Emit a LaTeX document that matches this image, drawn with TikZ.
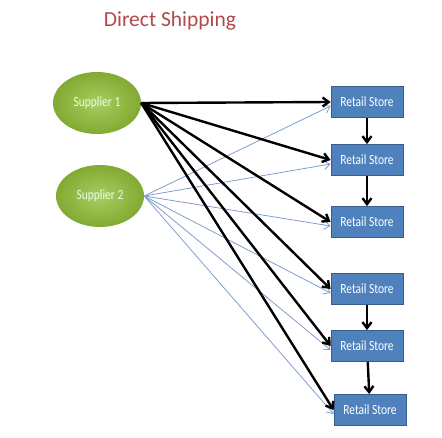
\documentclass[tikz,border=0pt]{standalone}
\usepackage{fontspec}
\setmainfont{Carlito}
\newfontfamily\boxfont[FakeStretch=0.82]{Carlito}
\usetikzlibrary{shapes.geometric,arrows.meta}
\definecolor{titlecol}{RGB}{178,72,74}
\definecolor{leafin}{RGB}{170,204,96}
\definecolor{leafout}{RGB}{130,170,50}
\definecolor{storefill}{RGB}{79,129,189}
\definecolor{storeline}{RGB}{56,93,138}
\definecolor{thincol}{RGB}{128,158,204}
\tikzset{
  supplier/.style={ellipse,minimum width=88pt,minimum height=62pt,inner sep=0pt,
    inner color=leafin,outer color=leafout,text=white!90!green,font=\boxfont\fontsize{14}{15}\selectfont},
  store/.style={rectangle,draw=storeline,line width=0.8pt,fill=storefill,minimum width=72pt,
    minimum height=31pt,inner sep=0pt,text=white,font=\boxfont\fontsize{14}{15}\selectfont},
  ship/.style={->,line width=2.4pt,black},
  alt/.style={->,line width=0.8pt,thincol},
}
\begin{document}
\begin{tikzpicture}[x=1pt,y=-1pt,>={Straight Barb[length=6pt,width=9pt]}]
\useasboundingbox (0,0) rectangle (442,438);
  % Title
  \node[text=titlecol,font=\fontsize{21.5}{24}\selectfont] (title) at (170,21) {Direct Shipping};
  % Node: Supplier 1
  \node[supplier] (s1) at (97,103) {Supplier 1};
  % Node: Supplier 2
  \node[supplier] (s2) at (100,196) {Supplier 2};
  % Node: Retail Store 1..6
  \node[store] (r1) at (367,102) {Retail Store};
  \node[store] (r2) at (367,160) {Retail Store};
  \node[store] (r3) at (367,222) {Retail Store};
  \node[store] (r4) at (367,289) {Retail Store};
  \node[store] (r5) at (367,346) {Retail Store};
  \node[store] (r6) at (370,410) {Retail Store};
%%
  % Edge: s2 -> r1..r6
  \foreach \r in {r1,r2,r3,r4,r5,r6}
    \draw[alt] (s2.east) -- ([yshift=-4pt]\r.west);
  % Edge: s1 -> r1..r6
  \foreach \r in {r1,r2,r3,r4,r5,r6}
    \draw[ship] (s1.east) -- (\r.west);
  % Edge: store -> store
  \draw[ship] (r1) -- (r2);
  \draw[ship] (r2) -- (r3);
  \draw[ship] (r4) -- (r5);
  \draw[ship] (r5) -- (r6);
%
\end{tikzpicture}
\end{document}
